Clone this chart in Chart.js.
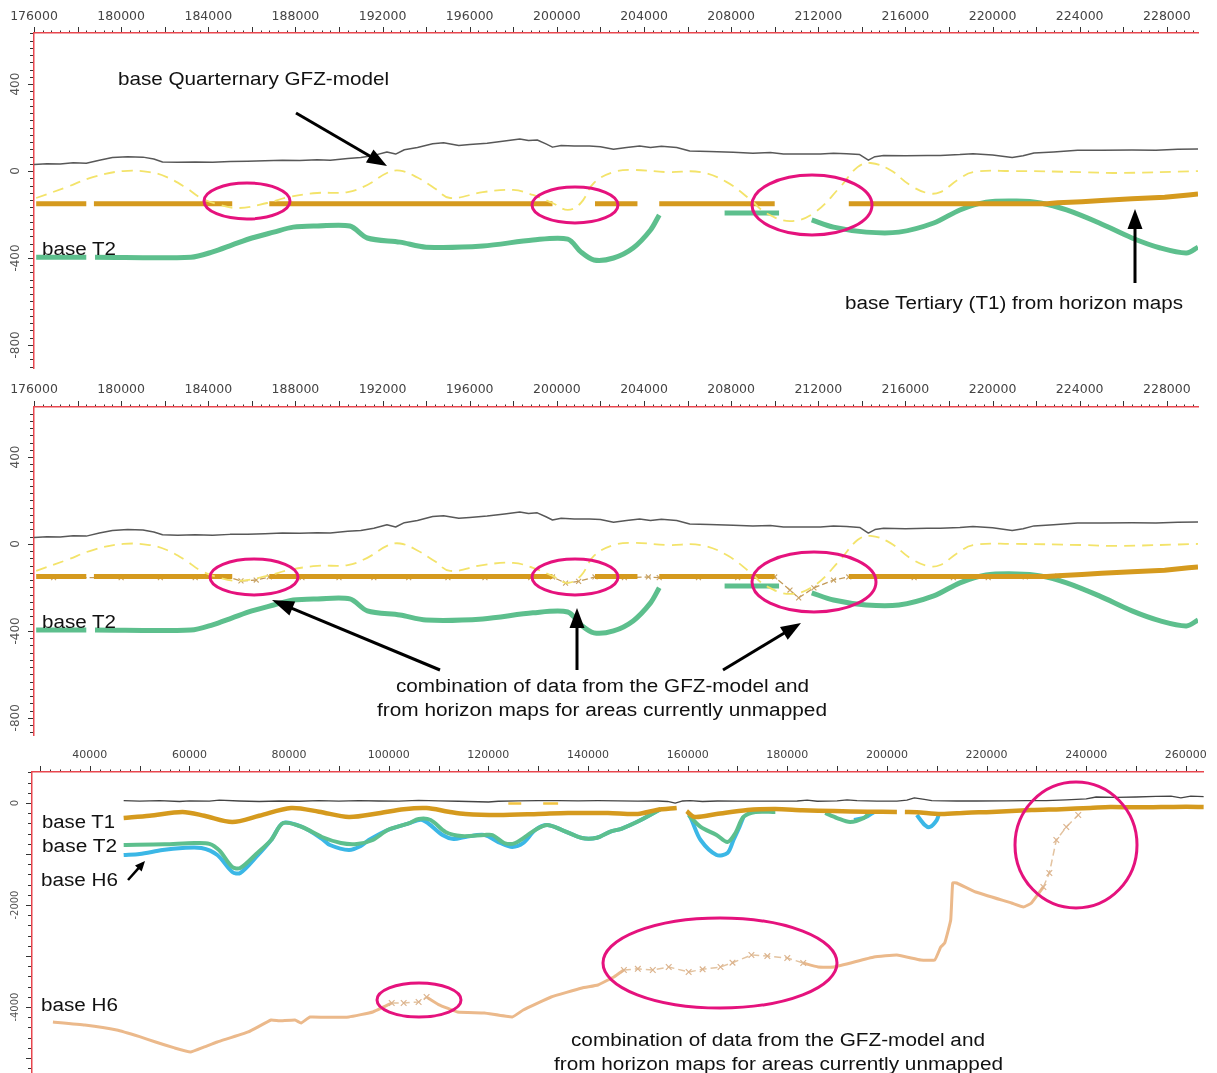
<!DOCTYPE html>
<html><head><meta charset="utf-8">
<script src="https://cdn.jsdelivr.net/npm/chart.js@4.4.1/dist/chart.umd.min.js"></script>
<style>
html,body{margin:0;padding:0;background:#fff;overflow:hidden;width:1217px;height:1073px;}
canvas{position:absolute;left:0;}
#ov{position:absolute;left:0;top:0;pointer-events:none;}
#ov text{font-family:"Liberation Sans",Arial,sans-serif;fill:#111;}
</style></head><body>
<canvas id="c1" width="1217" height="388" style="top:0px"></canvas>
<canvas id="c2" width="1217" height="382" style="top:373px"></canvas>
<canvas id="c3" width="1217" height="353" style="top:740px"></canvas>
<svg id="ov" width="1217" height="1073" xmlns="http://www.w3.org/2000/svg">
  <g id="ell" fill="none" stroke="#e5127d" stroke-width="3">
    <ellipse cx="247" cy="201" rx="43" ry="18"/>
    <ellipse cx="575" cy="205" rx="43" ry="18"/>
    <ellipse cx="812" cy="205" rx="60" ry="30"/>
    <ellipse cx="254" cy="577" rx="44" ry="18"/>
    <ellipse cx="575" cy="577" rx="43" ry="18"/>
    <ellipse cx="814" cy="582" rx="62" ry="30"/>
    <ellipse cx="419" cy="1000" rx="42" ry="17"/>
    <ellipse cx="720" cy="963" rx="117" ry="45"/>
    <ellipse cx="1076" cy="845" rx="61" ry="63"/>
  </g>
  <g id="arr"></g>
  <text x="118" y="85" font-size="19" textLength="271" lengthAdjust="spacingAndGlyphs">base Quarternary GFZ-model</text>
  <text x="42" y="255" font-size="18" textLength="74" lengthAdjust="spacingAndGlyphs">base T2</text>
  <text x="845" y="309" font-size="18" textLength="338" lengthAdjust="spacingAndGlyphs">base Tertiary (T1) from horizon maps</text>
  <text x="42" y="628" font-size="18" textLength="74" lengthAdjust="spacingAndGlyphs">base T2</text>
  <text x="396" y="692" font-size="18" textLength="413" lengthAdjust="spacingAndGlyphs">combination of data from the GFZ-model and</text>
  <text x="377" y="716" font-size="18" textLength="450" lengthAdjust="spacingAndGlyphs">from horizon maps for areas currently unmapped</text>
  <text x="42" y="828" font-size="18" textLength="73" lengthAdjust="spacingAndGlyphs">base T1</text>
  <text x="42" y="852" font-size="18" textLength="75" lengthAdjust="spacingAndGlyphs">base T2</text>
  <text x="41" y="886" font-size="18" textLength="77" lengthAdjust="spacingAndGlyphs">base H6</text>
  <text x="41" y="1011" font-size="18" textLength="77" lengthAdjust="spacingAndGlyphs">base H6</text>
  <text x="571" y="1046" font-size="18" textLength="414" lengthAdjust="spacingAndGlyphs">combination of data from the GFZ-model and</text>
  <text x="554" y="1070" font-size="18" textLength="449" lengthAdjust="spacingAndGlyphs">from horizon maps for areas currently unmapped</text>
</svg>
<script>
// ---------- tick labels ----------
const XLAB_A = [176000,180000,184000,188000,192000,196000,200000,204000,208000,212000,216000,220000,224000,228000];
const YLAB_A = [400,0,-400,-800];
const XLAB_B = [40000,60000,80000,100000,120000,140000,160000,180000,200000,220000,240000,260000];
const YLAB_B = [0,-2000,-4000];

// ---------- profile A (upper two panels) ----------
const TOPO_A = [[176000,30],[176600,33],[177200,32],[177800,38],[178400,36],[179000,50],[179600,62],[180300,66],[181000,64],[181500,55],[181900,42],[182600,40],[183400,42],[184200,40],[185000,44],[185800,45],[186600,47],[187400,50],[188200,49],[189000,52],[189600,50],[190400,58],[191000,62],[191600,72],[192200,88],[192600,78],[193000,98],[193600,108],[194300,126],[194800,130],[195500,118],[196000,122],[196800,128],[197600,138],[198300,147],[198700,140],[199100,143],[199500,125],[199800,110],[200200,118],[200800,115],[201500,115],[202000,112],[202600,100],[203200,108],[203800,115],[204300,108],[204800,114],[205500,108],[206100,92],[207000,90],[208100,86],[209000,82],[209800,85],[210400,78],[211200,78],[212100,78],[212700,82],[213300,80],[213900,76],[214300,50],[214600,66],[215000,72],[216000,70],[217000,72],[217600,72],[218500,76],[219100,80],[220000,74],[220900,62],[221400,70],[221900,83],[222800,88],[223900,96],[225000,96],[226400,97],[227500,96],[228500,100],[229430,101]];
const GFZ_A = [[176100,-124],[177500,-74],[178700,-28],[180100,0],[181300,-5],[182100,-28],[183000,-78],[183600,-120],[184400,-152],[185400,-170],[186700,-147],[187700,-120],[189000,-101],[190400,-97],[191300,-64],[192200,-9],[192800,2],[193600,-30],[194400,-80],[195100,-124],[196600,-97],[198000,-87],[198900,-110],[199800,-147],[200500,-179],[201100,-147],[201700,-55],[202600,-5],[203500,5],[205100,-5],[206600,-5],[207800,-51],[208900,-133],[209600,-193],[210700,-230],[211800,-193],[213000,-74],[213800,18],[214400,37],[215300,5],[216200,-64],[217000,-101],[217600,-97],[218400,-41],[219100,-5],[220900,0],[224100,-5],[225700,-9],[229430,0]];
const T1_A = [[176100,-150],[178400,-150],[178550,null],[178750,-150],[185100,-150],[185300,null],[186800,-150],[199800,-150],[200500,null],[201750,-150],[203700,-150],[204200,null],[204700,-150],[210000,-150],[211000,null],[213400,-150],[222500,-150],[223000,-146],[224100,-141],[225000,-135],[226400,-128],[227900,-121],[229000,-110],[229430,-106]];
const T2_A = [[176100,-396],[178400,-396],[178600,null],[178800,-396],[183200,-396],[184200,-372],[185100,-340],[186000,-308],[187000,-281],[187900,-258],[189000,-253],[190500,-253],[191300,-308],[192800,-327],[194000,-350],[196600,-345],[198900,-317],[200500,-313],[201100,-372],[201700,-409],[202600,-400],[203500,-354],[204300,-271],[204700,-202],[206000,null],[207700,-193],[210200,-193],[211000,null],[211700,-225],[212700,-258],[214200,-281],[215700,-281],[217300,-239],[218500,-179],[219700,-143],[221100,-138],[222200,-147],[223400,-179],[224900,-239],[226400,-308],[227700,-354],[228900,-377],[229430,-350]];
const COMB_A = [[176900,-155],[180000,-155],[181800,-155],[183400,-155],[184900,-152],[185500,-170],[186200,-166],[186800,-152],[188300,-155],[190000,-155],[191600,-155],[193200,-155],[195000,-155],[196700,-155],[198800,-155],[199800,-152],[200400,-180],[201000,-172],[201750,-152],[203100,-155],[204200,-152],[204700,-155],[206500,-155],[208300,-155],[210000,-152],[210700,-212],[211100,-248],[211800,-202],[212700,-166],[213400,-152],[216400,-155],[218200,-155],[219800,-155],[221500,-152],[223000,-148]];

// ---------- profile B (lower panel) ----------
const TOPO_B = [[46800,45],[50000,38],[54000,45],[58000,30],[60000,42],[64000,38],[66000,55],[70000,40],[74000,30],[78000,40],[82000,35],[86000,45],[90000,38],[94000,48],[98000,40],[102000,38],[106000,50],[110000,42],[114000,35],[118000,25],[120000,20],[122000,35],[126000,42],[130000,45],[134000,48],[138000,42],[142000,45],[146000,42],[150000,38],[154000,40],[156000,30],[157500,0],[159000,40],[160500,45],[163000,30],[166000,40],[170000,38],[174000,38],[178000,38],[182000,40],[184000,55],[186000,35],[190000,42],[192000,60],[194000,48],[198000,38],[202000,38],[204000,55],[205500,100],[207500,70],[209000,45],[214000,40],[218000,40],[224000,42],[228000,45],[232000,48],[236000,60],[240000,80],[242000,118],[246000,112],[250000,118],[254000,130],[257000,135],[259000,100],[261000,135],[263600,125]];
const T1_B = [[46800,-294],[52000,-250],[58600,-176],[63000,-250],[68600,-372],[74000,-250],[80400,-98],[86000,-170],[92000,-274],[98000,-200],[103000,-120],[107600,-98],[112000,-170],[115400,-216],[122000,-235],[130000,-215],[136000,-196],[144000,-196],[150000,-215],[153800,-137],[157800,-98],[158800,null],[159800,-160],[161400,-274],[165800,-216],[172000,-137],[177600,-118],[183000,-140],[189400,-157],[196000,-170],[202000,-176],[202800,null],[203600,-176],[206000,-180],[210800,-216],[216000,-190],[221000,-176],[229000,-137],[235000,-120],[240800,-98],[244800,-78],[250000,-85],[255000,-80],[260000,-75],[263600,-78]];
const T2_B = [[46800,-823],[55000,-810],[61000,-784],[64000,-800],[66000,-930],[68600,-1254],[70200,-1274],[73400,-1000],[76400,-725],[78800,-392],[82600,-470],[86600,-666],[90400,-784],[93600,-803],[96800,-725],[99800,-529],[104000,-400],[106000,-313],[108400,-333],[111400,-568],[114600,-647],[119200,-627],[120800,-627],[123200,-784],[125400,-784],[129400,-529],[131800,-431],[134800,-529],[138800,-686],[141800,-680],[144500,-560],[146800,-500],[150600,-333],[154600,-118],[157000,null],[160200,-235],[162600,-470],[165800,-627],[168000,-764],[169600,-588],[171200,-274],[173600,-176],[177600,-176],[182000,null],[187600,-196],[190000,-294],[192600,-372],[195400,-294],[196400,-196]];
const H6_B = [[46800,-1019],[50000,-1000],[54600,-921],[58600,-882],[62400,-882],[65600,-1019],[68600,-1352],[70200,-1372],[73400,-1058],[76400,-725],[78800,-392],[82600,-470],[86600,-700],[88200,-823],[92000,-921],[94400,-843],[96000,-725],[99800,-529],[104000,-400],[106800,-333],[110800,-627],[113000,-706],[115400,-666],[119200,-627],[122400,-784],[124800,-862],[127000,-784],[129400,-529],[131800,-431],[134800,-529],[138800,-686],[141800,-680],[144500,-560],[146800,-500],[150600,-333],[154600,-118],[157000,null],[160200,-200],[160800,-333],[162600,-725],[165800,-1019],[168000,-980],[169200,-725],[170400,-470],[171200,-274],[182000,null],[193400,-333],[195800,-274],[197400,-176],[200000,null],[206000,-235],[207600,-431],[208600,-470],[210000,-333],[210500,-196]];
const H6DEEP_B = [[32600,-4292],[39000,-4350],[45400,-4449],[50000,-4580],[53200,-4684],[57000,-4800],[60200,-4880],[63000,-4780],[65600,-4684],[71800,-4488],[76400,-4253],[78000,-4270],[81200,-4253],[82400,-4312],[84200,-4194],[88000,-4200],[92000,-4194],[96800,-4096],[100600,-3920],[104000,null],[107600,-3802],[110000,-3950],[113800,-4096],[119200,-4116],[124800,-4194],[127000,-4057],[132600,-3802],[138800,-3626],[142000,-3567],[144000,-3469],[145200,-3410],[147200,-3273],[165000,null],[183200,-3136],[186200,-3214],[189400,-3214],[197400,-3018],[202000,-2979],[206800,-3077],[209600,-3077],[210800,-2822],[211600,-2744],[212800,-2293],[213200,-1568],[214000,-1568],[217800,-1744],[225000,-1960],[227400,-2038],[229000,-1960],[231400,-1646]];
const H6COMB_B = [[100600,-3920],[103000,-3920],[106000,-3900],[107600,-3802],[127000,null],[147200,-3273],[150000,-3250],[153000,-3273],[156200,-3214],[160200,-3312],[163000,-3260],[166600,-3214],[169000,-3130],[172800,-2979],[176000,-3000],[180000,-3038],[183200,-3136],[200000,null],[231400,-1646],[232600,-1372],[234000,-725],[236000,-470],[238400,-235]];
const QUAT_B = [[124000,-10],[126600,-10],[128000,null],[131000,-10],[134000,-10]];

// ---------- helpers ----------
const tickMarks = {
  id: 'tickMarks',
  afterDraw(chart, args, o) {
    if (!o || !o.xMinor) return;
    const ctx = chart.ctx, a = chart.chartArea, xs = chart.scales.x, ys = chart.scales.y;
    ctx.save(); ctx.strokeStyle = '#333'; ctx.lineWidth = 1;
    let n0 = Math.ceil(xs.min / o.xMinor - 1e-9), n1 = Math.floor(xs.max / o.xMinor + 1e-9);
    for (let i = n0; i <= n1; i++) {
      const v = i * o.xMinor, r = v / o.xMajor, major = Math.abs(r - Math.round(r)) < 1e-6;
      const px = Math.round(xs.getPixelForValue(v)) + 0.5;
      ctx.beginPath(); ctx.moveTo(px, a.top - 1); ctx.lineTo(px, a.top - (major ? 6 : 2.5)); ctx.stroke();
    }
    n0 = Math.ceil(ys.min / o.yMinor - 1e-9); n1 = Math.floor(ys.max / o.yMinor + 1e-9);
    for (let i = n0; i <= n1; i++) {
      const v = i * o.yMinor, r = v / o.yMajor, major = Math.abs(r - Math.round(r)) < 1e-6;
      const py = Math.round(ys.getPixelForValue(v)) + 0.5;
      ctx.beginPath(); ctx.moveTo(a.left - 1, py); ctx.lineTo(a.left - (major ? 6 : 4), py); ctx.stroke();
    }
    ctx.restore();
  }
};
Chart.register(tickMarks);

function ln(data, color, width, extra) {
  return Object.assign({data, borderColor: color, backgroundColor: color, borderWidth: width,
    pointRadius: 0, fill: false, spanGaps: false, tension: 0, borderCapStyle: 'butt', borderJoinStyle: 'round'}, extra || {});
}
function make(id, datasets, s) {
  new Chart(document.getElementById(id), {
    type: 'line',
    data: {datasets},
    options: {
      responsive: false, animation: false, devicePixelRatio: 1,
      layout: {padding: {left: 0, top: 0, right: s.padRight, bottom: 20}},
      plugins: {legend: {display: false}, tooltip: {enabled: false}, tickMarks: s.marks},
      scales: {
        x: {type: 'linear', position: 'top', min: s.xMin, max: s.xMax,
          afterFit: sc => { sc.height = s.xH; },
          afterBuildTicks: sc => { sc.ticks = s.xLab.map(v => ({value: v})); },
          grid: {display: true, drawOnChartArea: false, drawTicks: false},
          border: {display: true, color: '#e8474f', width: 1.5},
          ticks: {autoSkip: false, maxRotation: 0, minRotation: 0, padding: s.xPad, color: '#444',
            font: {family: 'DejaVu Sans', size: s.xFont}, callback: v => String(v)}},
        y: {type: 'linear', position: 'left', min: s.yMin, max: s.yMax,
          afterFit: sc => { sc.width = s.yW; },
          afterBuildTicks: sc => { sc.ticks = s.yLab.map(v => ({value: v})); },
          grid: {display: true, drawOnChartArea: false, drawTicks: false},
          border: {display: true, color: '#e8474f', width: 1.5},
          ticks: {autoSkip: false, minRotation: 90, maxRotation: 90, crossAlign: 'center', padding: s.yPad, color: '#555',
            font: {family: 'DejaVu Sans', size: s.yFont}, callback: v => String(v)}}
      }
    }
  });
}

const GRAY = '#585858', YEL = '#f3e36a', ORG = '#d59a1e', GRN = '#5dbf8d', BLU = '#3bb7e6', TAN = '#ebb98b';
const marksA = {xMinor: 400, xMajor: 2000, yMinor: 400 / 12, yMajor: 400};
const marksB = {xMinor: 2000, xMajor: 10000, yMinor: 200, yMajor: 1000};

function upperSets(withComb) {
  const sets = [
    ln(TOPO_A, GRAY, 1.5),
    ln(GFZ_A, YEL, 1.8, {borderDash: [11, 7], tension: 0.4}),
    ln(T1_A, ORG, 5),
  ];
  if (withComb) sets.push(ln(COMB_A, '#c39a58', 1.3, {borderDash: [6, 3], pointRadius: 3.5, pointStyle: 'crossRot', pointBorderWidth: 1.1, pointBorderColor: '#c9a466'}));
  sets.push(ln(T2_A, GRN, 5, {tension: 0.3}));
  return sets;
}

make('c1', upperSets(false), {xMin: 176000, xMax: 229430, yMin: -906, yMax: 635, xLab: XLAB_A, yLab: YLAB_A,
  xH: 33, yW: 34, padRight: 19, xPad: 8.5, yPad: 5, xFont: 12.5, yFont: 12, marks: marksA});
make('c2', upperSets(true), {xMin: 176000, xMax: 229430, yMin: -879, yMax: 630, xLab: XLAB_A, yLab: YLAB_A,
  xH: 34, yW: 34, padRight: 19, xPad: 9.5, yPad: 5, xFont: 12.5, yFont: 12, marks: marksA});
make('c3', [
  ln(TOPO_B, '#444', 1.3),
  ln(QUAT_B, '#f2c340', 2.5),
  ln(T1_B, ORG, 4.5, {tension: 0.3}),
  ln(T2_B, GRN, 4, {tension: 0.3}),
  ln(H6_B, BLU, 4, {tension: 0.3}),
  ln(H6COMB_B, '#e3c3a0', 1.5, {borderDash: [7, 4], pointRadius: 4, pointStyle: 'crossRot', pointBorderWidth: 1.2, pointBorderColor: '#dcb48e'}),
  ln(H6DEEP_B, TAN, 3, {tension: 0.1})
], {xMin: 28400, xMax: 263600, yMin: -5292, yMax: 608, xLab: XLAB_B, yLab: YLAB_B,
  xH: 32, yW: 32, padRight: 9, xPad: 10, yPad: 2.5, xFont: 11, yFont: 10, marks: marksB});

// ---------- arrows ----------
function arrow(x1, y1, x2, y2, w, hl, hw) {
  const g = document.getElementById('arr'), NS = 'http://www.w3.org/2000/svg';
  const dx = x2 - x1, dy = y2 - y1, L = Math.hypot(dx, dy), ux = dx / L, uy = dy / L;
  const bx = x2 - ux * hl, by = y2 - uy * hl;
  const l = document.createElementNS(NS, 'line');
  l.setAttribute('x1', x1); l.setAttribute('y1', y1); l.setAttribute('x2', bx + ux); l.setAttribute('y2', by + uy);
  l.setAttribute('stroke', '#000'); l.setAttribute('stroke-width', w);
  g.appendChild(l);
  const p = document.createElementNS(NS, 'polygon');
  p.setAttribute('points', `${x2},${y2} ${bx - uy * hw / 2},${by + ux * hw / 2} ${bx + uy * hw / 2},${by - ux * hw / 2}`);
  p.setAttribute('fill', '#000');
  g.appendChild(p);
}
arrow(296, 113, 387, 166, 3, 20, 15);
arrow(1135, 283, 1135, 209, 3, 20, 15);
arrow(440, 670, 272, 600, 3, 22, 15);
arrow(577, 670, 577, 608, 3, 20, 15);
arrow(723, 670, 801, 623, 3, 20, 15);
arrow(128, 880, 145, 861, 2.5, 10, 9);
</script>
</body></html>
